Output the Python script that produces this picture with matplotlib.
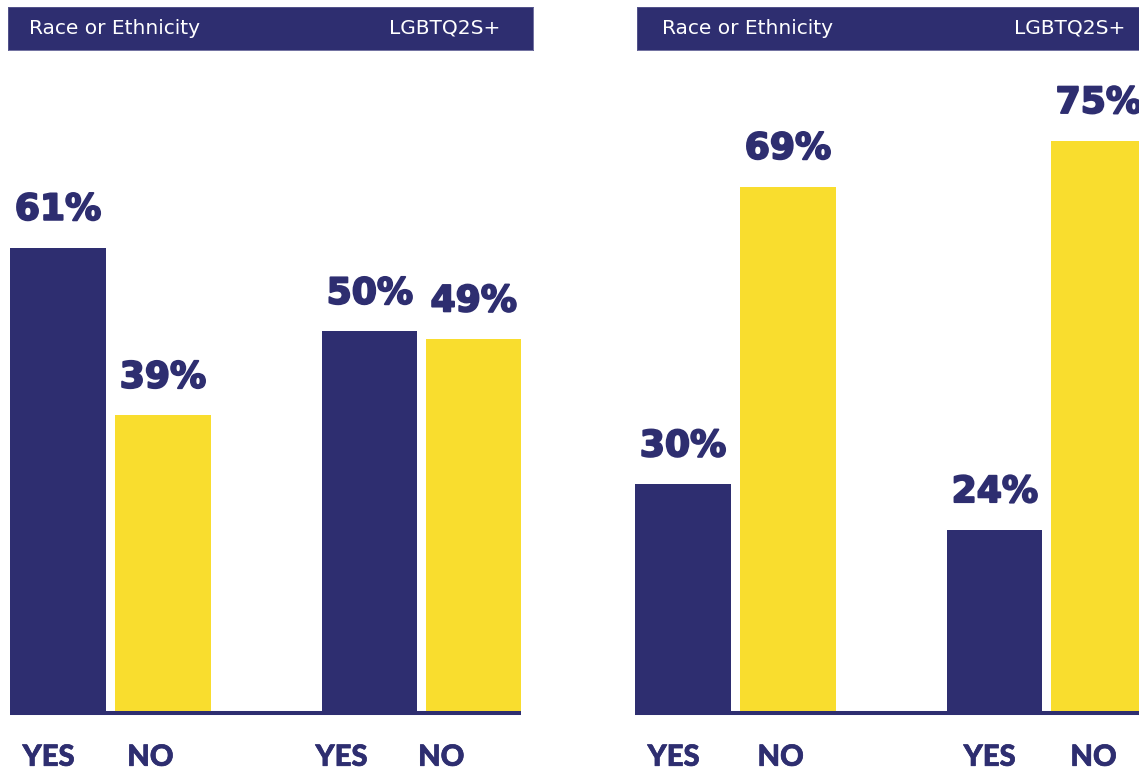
import matplotlib
matplotlib.use("Agg")
import matplotlib.pyplot as plt
import matplotlib.patheffects as pe

# ---- data ----
categories = ["YES", "NO", "YES", "NO"]
left_values = [61, 39, 50, 49]
right_values = [30, 69, 24, 75]
header_left = "Race or Ethnicity"
header_right = "LGBTQ2S+"

# ---- style ----
NAVY = "#2E2E70"
YELLOW = "#F9DD2E"
bar_colors = [NAVY, YELLOW, NAVY, YELLOW]
positions = [0, 1, 2.97, 3.96]
label_shift = [[-0.09, -0.12, -0.27, -0.31], [-0.09, -0.07, -0.05, -0.05]]
bar_width = 0.905

W, H = 1139, 769
fig = plt.figure(figsize=(W / 100, H / 100), dpi=100)
fig.patch.set_facecolor("white")

PX_PER_UNIT = 105.0
PX_PER_PCT = 7.63
BASE_Y = 713
TOP_Y = 60

thick = [pe.withStroke(linewidth=1.4, foreground=NAVY)]


def panel(x_origin, values, shifts, header_x0, header_x1, left_pad, right_end):
    ax_w_px = 560
    ax = fig.add_axes([x_origin / W, (H - BASE_Y) / H, ax_w_px / W, (BASE_Y - TOP_Y) / H])
    ax.set_xlim(-58 / PX_PER_UNIT, (ax_w_px - 58) / PX_PER_UNIT)
    ax.set_ylim(0, (BASE_Y - TOP_Y) / PX_PER_PCT)
    ax.axis("off")
    ax.bar(positions, values, width=bar_width, color=bar_colors, zorder=2)
    ax.hlines(0, positions[0] - bar_width / 2, positions[-1] + bar_width / 2,
              color=NAVY, linewidth=2.9, zorder=3, clip_on=False)
    for x, v in zip(positions, values):
        ax.annotate(f"{v}%", (x, v), xytext=(0, 20), textcoords="offset points",
                    ha="center", va="baseline", fontsize=26, fontweight="bold",
                    color=NAVY, family="DejaVu Sans", annotation_clip=False,
                    path_effects=thick)
    for x, s, c in zip(positions, shifts, categories):
        ax.annotate(c, (x + s, 0), xytext=(0, -38), textcoords="offset points",
                    ha="center", va="baseline", fontsize=21, fontweight="black",
                    color=NAVY, family="Lato", annotation_clip=False,
                    path_effects=[pe.withStroke(linewidth=0.5, foreground=NAVY)])
    # header bar
    hx = fig.add_axes([header_x0 / W, (H - 50) / H, (header_x1 - header_x0) / W, 43 / H])
    hx.set_facecolor(NAVY)
    hx.set_xticks([])
    hx.set_yticks([])
    for sp in hx.spines.values():
        sp.set_color("#5a5a90")
        sp.set_linewidth(0.6)
    hx.set_xlim(header_x0, header_x1)
    hx.set_ylim(0, 1)
    hx.text(header_x0 + left_pad, 0.5, header_left, color="white", fontsize=14.5,
            va="center", ha="left", family="DejaVu Sans")
    hx.text(right_end, 0.5, header_right, color="white", fontsize=14.5,
            va="center", ha="right", family="DejaVu Sans")
    return ax


panel(0, left_values, label_shift[0], 8, 533, 21, 500)
panel(625, right_values, label_shift[1], 637, 1160, 25, 1125)

fig.savefig("out.png", dpi=100, facecolor="white")
